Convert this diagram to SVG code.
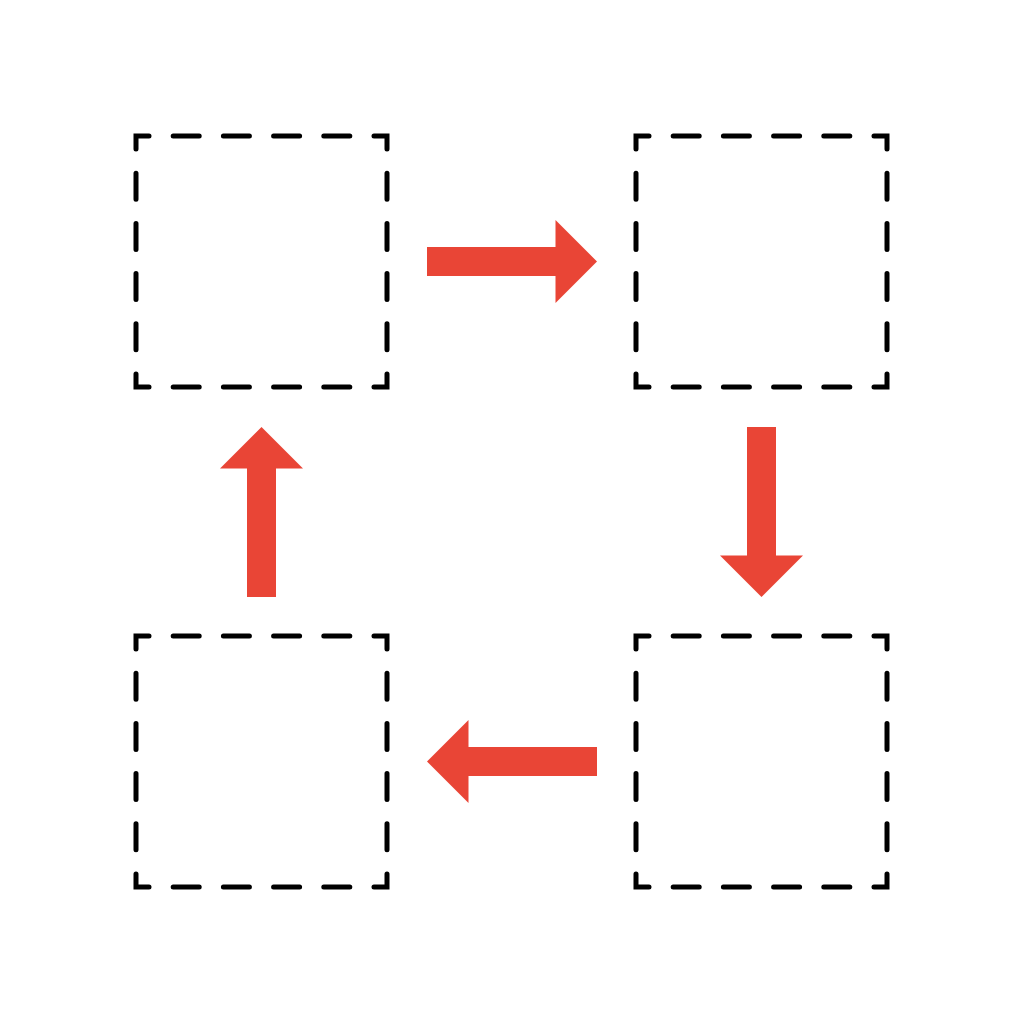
<svg xmlns="http://www.w3.org/2000/svg" xmlns:xlink="http://www.w3.org/1999/xlink" width="1024" height="1024" viewBox="0 0 1024 1024">
  <style>
    .box { fill: none; stroke: #000000; stroke-width: 5; stroke-linecap: round; stroke-linejoin: miter; stroke-dasharray: 26 24.2; stroke-dashoffset: 38.1; }
    .arrow { fill: #E94536; stroke: none; }
  </style>
  <defs>
    <path id="arrowShape" d="M0,-14.5 H128.5 V-41.5 L170,0 L128.5,41.5 V14.5 H0 Z"/>
  </defs>
  <rect width="1024" height="1024" fill="#ffffff"/>
  <g id="node-top-left">
    <path class="box" d="M261.5,136 H387 V387 H136 V136 Z"/>
  </g>
  <g id="node-top-right">
    <path class="box" d="M761.5,136 H887 V387 H636 V136 Z"/>
  </g>
  <g id="node-bottom-right">
    <path class="box" d="M761.5,636 H887 V887 H636 V636 Z"/>
  </g>
  <g id="node-bottom-left">
    <path class="box" d="M261.5,636 H387 V887 H136 V636 Z"/>
  </g>
  <g id="connectors">
    <use class="arrow" xlink:href="#arrowShape" transform="translate(427,261.5)"/>
    <use class="arrow" xlink:href="#arrowShape" transform="translate(761.5,427) rotate(90)"/>
    <use class="arrow" xlink:href="#arrowShape" transform="translate(597,761.5) rotate(180)"/>
    <use class="arrow" xlink:href="#arrowShape" transform="translate(261.5,597) rotate(-90)"/>
  </g>
</svg>
